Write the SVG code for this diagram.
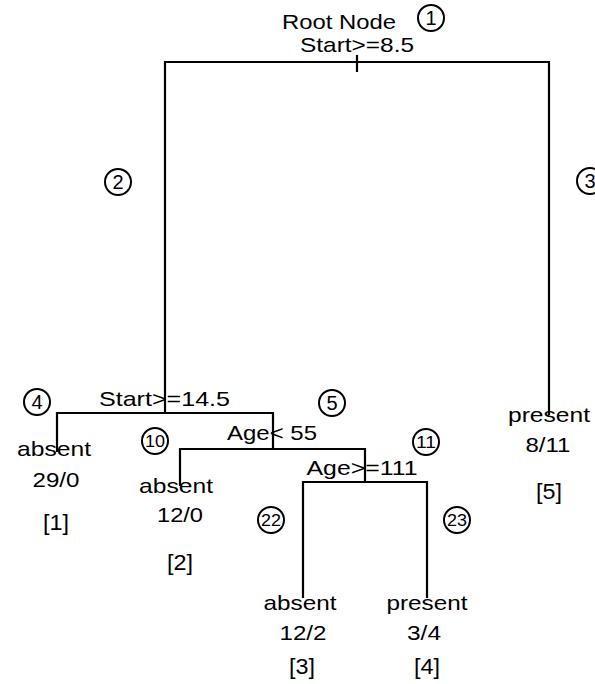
<svg xmlns="http://www.w3.org/2000/svg" width="595" height="684" viewBox="0 0 595 684">
<style>
text{font-family:"Liberation Sans",Arial,sans-serif;font-size:21px;fill:#000;text-anchor:middle}
.c{fill:#fff;stroke:#000;stroke-width:2}
.cn{font-size:20px}
.cn2{font-size:17px}
.b{font-size:22px}
.e{fill:none;stroke:#000;stroke-width:2.2}
</style>
<rect width="595" height="684" fill="#fff"/>
<g id="connectors">
<path class="e" d="M165 413V62H549V415"/>
<path class="e" d="M357 55V72"/>
<path class="e" d="M57 452V413H273V449"/>
<path class="e" d="M180 486V449H365V482"/>
<path class="e" d="M303 598V482H427V598"/>
</g>
<g id="n1">
<text x="339" y="29" textLength="114" lengthAdjust="spacingAndGlyphs">Root Node</text>
<text x="357" y="52" textLength="114" lengthAdjust="spacingAndGlyphs">Start&gt;=8.5</text>
<circle class="c" cx="431" cy="18" r="13"/><text class="cn" x="431" y="25">1</text>
</g>
<g id="n2">
<circle class="c" cx="118" cy="182" r="13"/><text class="cn" x="118" y="189">2</text>
<text x="164.5" y="406" textLength="131" lengthAdjust="spacingAndGlyphs">Start&gt;=14.5</text>
</g>
<g id="n3">
<circle class="c" cx="590" cy="181" r="13"/><text class="cn" x="590" y="188">3</text>
<text x="549" y="422" textLength="82" lengthAdjust="spacingAndGlyphs">present</text>
<text x="548" y="452" textLength="45" lengthAdjust="spacingAndGlyphs">8/11</text>
<text class="b" x="549" y="499" textLength="26" lengthAdjust="spacingAndGlyphs">[5]</text>
</g>
<g id="n4">
<circle class="c" cx="37" cy="402" r="13"/><text class="cn" x="37" y="409">4</text>
<text x="54" y="456" textLength="74" lengthAdjust="spacingAndGlyphs">absent</text>
<text x="56" y="487" textLength="47" lengthAdjust="spacingAndGlyphs">29/0</text>
<text class="b" x="56" y="530" textLength="26" lengthAdjust="spacingAndGlyphs">[1]</text>
</g>
<g id="n5">
<circle class="c" cx="332" cy="403" r="13"/><text class="cn" x="332" y="410">5</text>
<text x="272" y="440" textLength="90" lengthAdjust="spacingAndGlyphs">Age&lt; 55</text>
</g>
<g id="n10">
<circle class="c" cx="155" cy="441" r="13"/><text class="cn2" x="155" y="447" textLength="20" lengthAdjust="spacingAndGlyphs">10</text>
<text x="176" y="493" textLength="74" lengthAdjust="spacingAndGlyphs">absent</text>
<text x="180" y="522" textLength="46" lengthAdjust="spacingAndGlyphs">12/0</text>
<text class="b" x="180" y="570" textLength="26" lengthAdjust="spacingAndGlyphs">[2]</text>
</g>
<g id="n11">
<circle class="c" cx="426" cy="442" r="13"/><text class="cn2" x="426" y="448" textLength="20" lengthAdjust="spacingAndGlyphs">11</text>
<text x="362" y="475" textLength="111" lengthAdjust="spacingAndGlyphs">Age&gt;=111</text>
</g>
<g id="n22">
<circle class="c" cx="271" cy="520" r="13"/><text class="cn2" x="271" y="526" textLength="20" lengthAdjust="spacingAndGlyphs">22</text>
<text x="300" y="610" textLength="73" lengthAdjust="spacingAndGlyphs">absent</text>
<text x="303" y="640" textLength="47" lengthAdjust="spacingAndGlyphs">12/2</text>
<text class="b" x="302" y="674" textLength="26" lengthAdjust="spacingAndGlyphs">[3]</text>
</g>
<g id="n23">
<circle class="c" cx="457" cy="520" r="13"/><text class="cn2" x="457" y="526" textLength="20" lengthAdjust="spacingAndGlyphs">23</text>
<text x="427" y="610" textLength="81" lengthAdjust="spacingAndGlyphs">present</text>
<text x="424" y="640" textLength="34" lengthAdjust="spacingAndGlyphs">3/4</text>
<text class="b" x="427" y="674" textLength="26" lengthAdjust="spacingAndGlyphs">[4]</text>
</g>
</svg>
